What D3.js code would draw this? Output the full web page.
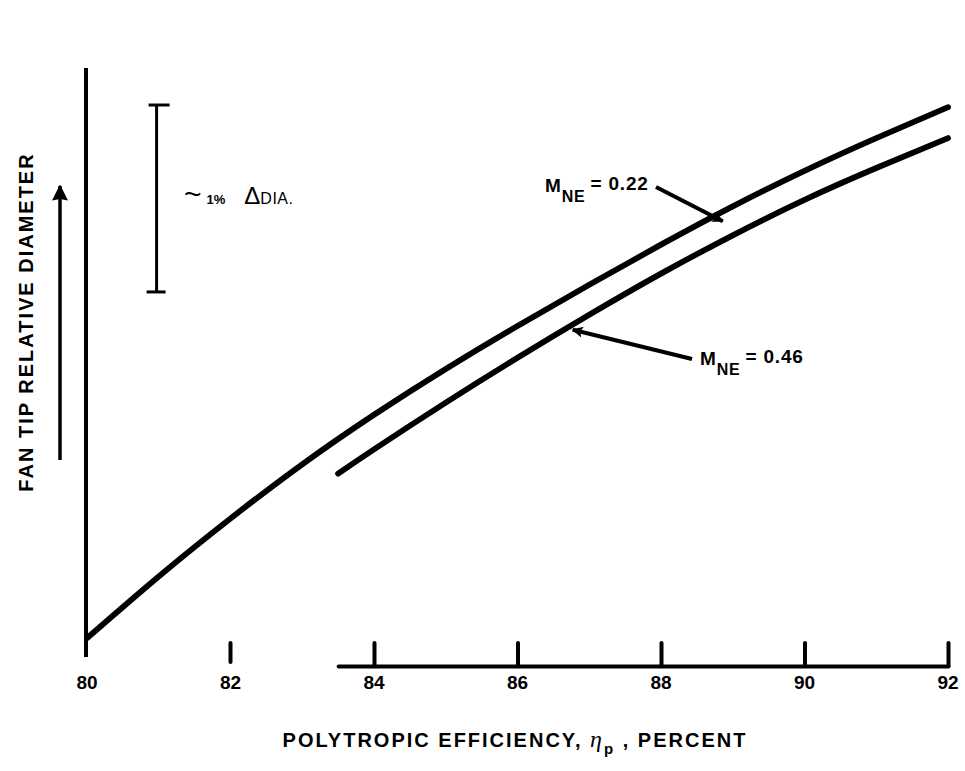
<!DOCTYPE html>
<html lang="en">
<head>
	<meta charset="UTF-8">
	<title>Fan tip relative diameter</title>
	<script src="https://cdn.jsdelivr.net/npm/d3@7"></script>
	<style>
		body { margin: 0; background: #fff; }
		text { font-family: "Liberation Sans", Arial, sans-serif; font-weight: bold; fill: #000; }
	</style>
</head>
<body>
	<svg id="grafico" width="965" height="771"></svg>
	<script>
	// polytropic efficiency, percent
	var effLow = [80, 81, 82, 83, 84, 85, 86, 87, 88, 89, 90, 91, 92];
	// relative fan tip diameter change (% of diameter), M_NE = 0.22
	var diaLow = [0.01, 0.34, 0.65, 0.94, 1.205, 1.45, 1.68, 1.90, 2.115, 2.32, 2.51, 2.685, 2.85];
	// M_NE = 0.46
	var effHigh = [83.5, 84, 85, 86, 87, 88, 89, 90, 91, 92];
	var diaHigh = [0.89, 1.02, 1.27, 1.51, 1.74, 1.96, 2.165, 2.355, 2.525, 2.685];

	var axisTicks = [84, 86, 88, 90, 92];
	var tickLabels = [80, 82, 84, 86, 88, 90, 92];

	var svg = d3.select("#grafico");

	var x = d3.scaleLinear().domain([80, 92]).range([87, 948]);
	var y = d3.scaleLinear().domain([0, 3.06]).range([640, 68]);

	// eixo y (linha simples, sem ticks)
	svg.append("line")
		.attr("x1", x(80) - 1).attr("x2", x(80) - 1)
		.attr("y1", y(3.06)).attr("y2", 657)
		.attr("stroke", "#000").attr("stroke-width", 4);

	// eixo x: segmento de 83.5 a 92 com ticks para cima
	var xSeg = x.copy().domain([83.5, 92]).range([x(83.5), x(92)]);
	var gx = svg.append("g")
		.attr("transform", "translate(0,666)")
		.call(d3.axisBottom(xSeg).tickValues(axisTicks).tickSizeInner(-23).tickSizeOuter(0).tickFormat(""));
	gx.select(".domain").attr("stroke-width", 4).attr("stroke-linecap", "round");
	gx.selectAll(".tick line").attr("stroke-width", 4).attr("stroke-linecap", "round");

	// tick solto em 82
	svg.append("line")
		.attr("x1", x(82)).attr("x2", x(82))
		.attr("y1", 643).attr("y2", 662)
		.attr("stroke", "#000").attr("stroke-width", 4).attr("stroke-linecap", "round");

	svg.selectAll(".ticklabel").data(tickLabels).enter()
		.append("text")
		.attr("class", "ticklabel")
		.attr("x", function(d){ return x(d); })
		.attr("y", 689)
		.attr("text-anchor", "middle")
		.style("font-size", "19px")
		.text(function(d){ return d; });

	// curvas
	var line = d3.line()
		.x(function(d){ return x(d[0]); })
		.y(function(d){ return y(d[1]); })
		.curve(d3.curveNatural);

	var curves = [d3.zip(effLow, diaLow), d3.zip(effHigh, diaHigh)];
	svg.selectAll(".curva").data(curves).enter()
		.append("path")
		.attr("class", "curva")
		.attr("d", line)
		.attr("fill", "none")
		.attr("stroke", "#000")
		.attr("stroke-width", 5.8)
		.attr("stroke-linecap", "round");

	// barra de escala ~1%
	var barX = x(80.97);
	svg.append("line")
		.attr("x1", barX).attr("x2", barX)
		.attr("y1", y(2.862)).attr("y2", y(1.862))
		.attr("stroke", "#000").attr("stroke-width", 3);
	[[2.862, -8, 13], [1.862, -10, 9]].forEach(function(c){
		svg.append("line")
			.attr("x1", barX + c[1]).attr("x2", barX + c[2])
			.attr("y1", y(c[0])).attr("y2", y(c[0]))
			.attr("stroke", "#000").attr("stroke-width", 3);
	});
	var dt = svg.append("text").attr("x", 184).attr("y", 204);
	dt.append("tspan").style("font-size", "30px").style("font-weight", "normal").text("~");
	dt.append("tspan").attr("dx", 5).style("font-size", "13px").text("1%");
	dt.append("tspan").attr("dx", 19).style("font-size", "24px").style("font-weight", "normal").text("Δ");
	dt.append("tspan").style("font-size", "16px").style("font-weight", "normal").style("letter-spacing", "0.5px").text("DIA.");

	// setas
	var defs = svg.append("defs");
	defs.append("marker")
		.attr("id", "head")
		.attr("viewBox", "0 0 10 10")
		.attr("refX", 9).attr("refY", 5)
		.attr("markerWidth", 4.8).attr("markerHeight", 2.8)
		.attr("markerUnits", "strokeWidth")
		.attr("orient", "auto")
		.append("path").attr("d", "M0,0L10,5L0,10L2,5Z").attr("fill", "#000");
	defs.append("marker")
		.attr("id", "headUp")
		.attr("viewBox", "0 0 10 10")
		.attr("refX", 9).attr("refY", 5)
		.attr("markerWidth", 8.5).attr("markerHeight", 4.6)
		.attr("markerUnits", "strokeWidth")
		.attr("orient", "auto")
		.append("path").attr("d", "M0,0L10,5L0,10L1,5Z").attr("fill", "#000");

	function seta(x1, y1, x2, y2, w, m) {
		svg.append("line")
			.attr("x1", x1).attr("y1", y1).attr("x2", x2).attr("y2", y2)
			.attr("stroke", "#000").attr("stroke-width", w)
			.attr("marker-end", "url(#" + m + ")");
	}

	seta(60, 460, 60, 186, 3.5, "headUp");
	seta(656, 187, x(88.86), y(2.24), 4, "head");
	seta(692, 359, x(86.77), y(1.66), 4, "head");

	function rotulo(px, py, valor) {
		var t = svg.append("text").attr("x", px).attr("y", py)
			.style("font-size", "19px").style("letter-spacing", "0.8px");
		t.append("tspan").text("M");
		t.append("tspan").attr("dy", 10).style("font-size", "16px").text("NE");
		t.append("tspan").attr("dy", -12).attr("dx", 5).text("= " + valor);
	}
	rotulo(545, 192, "0.22");
	rotulo(700, 365, "0.46");

	// titulos dos eixos
	svg.append("text")
		.attr("transform", "translate(33,322) rotate(-90)")
		.attr("text-anchor", "middle")
		.style("font-size", "20px")
		.style("letter-spacing", "2px")
		.text("FAN TIP RELATIVE DIAMETER");

	var xt = svg.append("text")
		.attr("x", 515).attr("y", 747)
		.attr("text-anchor", "middle")
		.style("font-size", "20px")
		.style("letter-spacing", "2px");
	xt.append("tspan").text("POLYTROPIC EFFICIENCY, ");
	xt.append("tspan").style("font-family", "'Liberation Serif', serif").style("font-style", "italic").style("font-weight", "normal").style("font-size", "24px").text("η");
	xt.append("tspan").attr("dy", 7).style("font-size", "15px").text("p");
	xt.append("tspan").attr("dy", -7).text(" , PERCENT");
	</script>
</body>
</html>
